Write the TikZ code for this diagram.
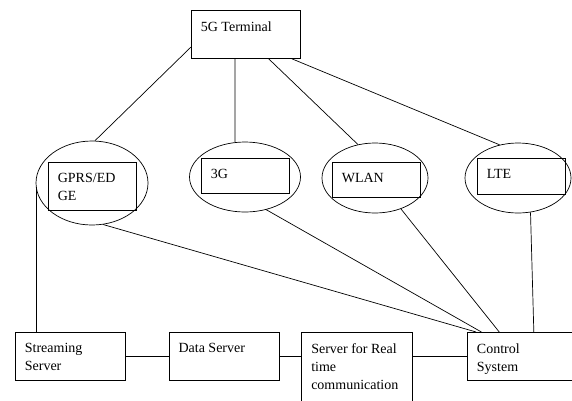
\documentclass[tikz,border=0pt]{standalone}
\usepackage{fontspec}
\setmainfont{Liberation Serif}
\usetikzlibrary{positioning,shapes.geometric}

\newcommand{\inbox}[3]{\parbox[t][#2][t]{#1}{\raggedright\vspace*{11pt}#3}}

\begin{document}
\begin{tikzpicture}[
        x=1pt, y=-1pt,
        font=\fontsize{14}{18}\selectfont,
        line width=0.7pt,
        box/.style={rectangle, draw, anchor=north west, inner xsep=9.5pt, inner ysep=0pt},
        oval/.style 2 args={ellipse, draw, inner sep=0pt, minimum width=#1, minimum height=#2}
    ]
        \useasboundingbox (0,0) rectangle (572,400);

        \node[box] (term) at (191,10) {\inbox{90pt}{48pt}{5G Terminal}};

        % access networks
        \node[oval={112pt}{84pt}] (gprsO) at (92,183) {};
        \node[box] (gprs) at (48,162) {\inbox{69pt}{48pt}{GPRS/ED\\GE}};
        \node[oval={111pt}{70pt}] (g3O) at (245,177) {};
        \node[box] (g3) at (201,158) {\inbox{69pt}{35pt}{3G}};
        \node[oval={106pt}{70pt}] (wlanO) at (375,178) {};
        \node[box] (wlan) at (332,162) {\inbox{69pt}{35pt}{WLAN}};
        \node[oval={106pt}{70pt}] (lteO) at (518,178) {};
        \node[box] (lte) at (477,158) {\inbox{69pt}{36pt}{LTE}};

        % servers
        \node[box] (strm) at (15,332) {\inbox{91pt}{48pt}{Streaming\\Server}};
        \node[box, right=43pt of strm.north east, anchor=north west] (data) {\inbox{91pt}{48pt}{Data Server}};
        \node[box, right=22pt of data.north east, anchor=north west] (rt) {\inbox{92pt}{72pt}{Server for Real\\time\\communication}};
        \node[box, right=54pt of rt.north east, anchor=north west] (ctrl) {\inbox{90pt}{48pt}{Control\\System}};

        \draw (term.193) -- (gprsO.86);
        \draw (term.246) -- (g3O.106);
        \draw (term.313) -- (wlanO.117);
        \draw (term.332) -- (lteO.119);

        \draw (gprsO.285) -- (ctrl.152);
        \draw (g3O.303) -- (ctrl.149);
        \draw (wlanO.310) -- (ctrl.133);
        \draw (lteO.290) -- (ctrl.64);

        \draw (gprsO.184) -- (gprsO.184 |- strm.north);
        \draw (strm.east) -- (data.west);
        \draw (data.east) -- (data.east -| rt.west);
        \draw (ctrl.west -| rt.east) -- (ctrl.west);
    \end{tikzpicture}
\end{document}
